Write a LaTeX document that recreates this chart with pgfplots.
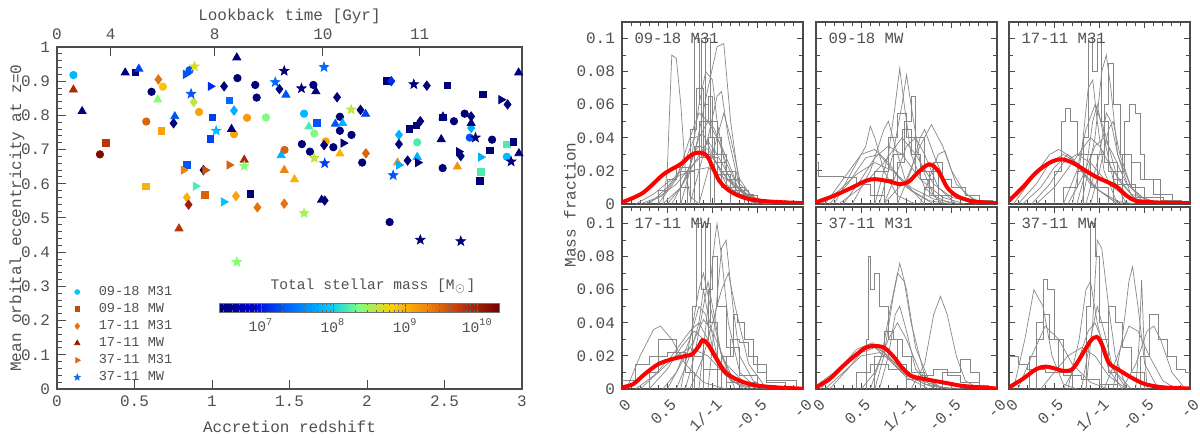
\documentclass[border=0pt]{standalone}
\usepackage{pgfplots}
\pgfplotsset{compat=1.18}
\usepackage{fontspec}
\setmainfont{Liberation Mono}
\definecolor{txt}{RGB}{80,80,80}
\definecolor{axc}{RGB}{75,75,75}
\definecolor{gline}{RGB}{135,135,135}
\definecolor{lca}{rgb}{0,0.78,1}
\definecolor{lcb}{rgb}{0.75,0.3,0.05}
\definecolor{lcc}{rgb}{0.88,0.45,0.05}
\definecolor{lcd}{rgb}{0.6,0.1,0.0}
\definecolor{lce}{rgb}{0.88,0.4,0.05}
\definecolor{lcf}{rgb}{0.0,0.45,0.9}
\pgfdeclareplotmark{fstar}{%
 \pgfpathmoveto{\pgfpointpolar{90}{\pgfplotmarksize}}%
 \pgfpathlineto{\pgfpointpolar{126}{0.42\pgfplotmarksize}}%
 \pgfpathlineto{\pgfpointpolar{162}{\pgfplotmarksize}}%
 \pgfpathlineto{\pgfpointpolar{198}{0.42\pgfplotmarksize}}%
 \pgfpathlineto{\pgfpointpolar{234}{\pgfplotmarksize}}%
 \pgfpathlineto{\pgfpointpolar{270}{0.42\pgfplotmarksize}}%
 \pgfpathlineto{\pgfpointpolar{306}{\pgfplotmarksize}}%
 \pgfpathlineto{\pgfpointpolar{342}{0.42\pgfplotmarksize}}%
 \pgfpathlineto{\pgfpointpolar{18}{\pgfplotmarksize}}%
 \pgfpathlineto{\pgfpointpolar{54}{0.42\pgfplotmarksize}}%
 \pgfpathclose\pgfusepathqfillstroke}
\newcommand{\GL}[1]{\addplot[gr] coordinates {#1};}
\newcommand{\GS}[1]{\addplot[gr,const plot] coordinates {#1};}
\newcommand{\RC}[1]{\addplot[red, line width=2pt, smooth, forget plot] coordinates {#1};}
\pgfplotsset{
 base/.style={font=\fontsize{8}{9.5}\selectfont, /pgf/number format/assume math mode=true,
   axis line style={axc, line width=0.6pt}, tick style={axc, line width=0.5pt},
   tick label style={txt}, label style={txt}, scale only axis, anchor=south west},
 gr/.style={gline, line width=0.35pt, forget plot},
 mf/.style={base, width=90.5pt, height=91pt, xmin=0, xmax=4, ymin=0, ymax=0.11,
   xtick={0,1,2,3,4}, ytick={0,0.02,0.04,0.06,0.08,0.1}, minor x tick num=4, minor y tick num=1,
   major tick length=3pt, minor tick length=1.8pt, scaled y ticks=false,
   yticklabel style={/pgf/number format/fixed, /pgf/number format/precision=2}},
 bot/.style={xticklabels={0,0.5,1/-1,-0.5,-0}, xticklabel style={xshift=4pt, yshift=-5.5pt, rotate=45, anchor=east, inner sep=1pt}},
 topr/.style={xticklabels={}},
 sc/.style={scatter, only marks, scatter src=explicit, forget plot,
   scatter/use mapped color={draw=mapped color, fill=mapped color}},
}
\newcommand{\PL}[1]{\node[anchor=west, txt, font=\fontsize{7.8}{9}\selectfont] at (axis cs:0.12,0.1) {#1};}
\begin{document}
\begin{tikzpicture}
\useasboundingbox (0,0) rectangle (600pt,219pt);
% ---------------- left scatter ----------------
\begin{axis}[base, at={(28.5pt,24.5pt)}, width=232.5pt, height=171pt,
 xmin=0, xmax=3, ymin=0, ymax=1, clip=false,
 xtick={0,0.5,1,1.5,2,2.5,3}, ytick={0,0.1,0.2,0.3,0.4,0.5,0.6,0.7,0.8,0.9,1},
 minor y tick num=4, xtick pos=bottom, ytick pos=left,
 major tick length=4.3pt, minor tick length=2.5pt,
 xlabel={Accretion redshift}, ylabel={Mean orbital eccentricity at z=0},
 ylabel style={at={(axis description cs:-0.086,0.5)}, anchor=center},
 colormap={idl}{rgb(0pt)=(0,0,0.45); rgb(12pt)=(0,0,0.85); rgb(25pt)=(0,0.4,1); rgb(39pt)=(0,0.78,1); rgb(50pt)=(0.5,1,0.5); rgb(62pt)=(1,0.8,0); rgb(73pt)=(0.95,0.55,0.05); rgb(86pt)=(0.75,0.22,0.05); rgb(100pt)=(0.45,0,0)},
 point meta min=6.42, point meta max=10.3,
 colorbar horizontal,
 colorbar style={at={(parent axis.south west)}, anchor=south west, xshift=81pt, yshift=47pt,
   width=140pt, height=4.5pt, font=\fontsize{7.3}{8.5}\selectfont,
   xtick={7,8,9,10}, xticklabels={10\textsuperscript{7},10\textsuperscript{8},10\textsuperscript{9},10\textsuperscript{10}},
   minor xtick={6.477,6.602,6.699,6.778,6.845,6.903,6.954,7.301,7.477,7.602,7.699,7.778,7.845,7.903,7.954,8.301,8.477,8.602,8.699,8.778,8.845,8.903,8.954,9.301,9.477,9.602,9.699,9.778,9.845,9.903,9.954,10.301},
   major tick length=2pt, minor tick length=1pt, tick style={black!60},
   axis line style={black!55, line width=0.5pt},
   xticklabel style={txt, yshift=0pt},
   title={Total stellar mass [M\textsubscript{$\odot$}]}, title style={txt, yshift=-4.75pt, xshift=7pt},
   /pgf/number format/assume math mode=true},
 legend style={at={(0.0045,0.0)}, anchor=south west, draw=none, fill=none,
   font=\fontsize{6.8}{7.5}\selectfont, text=txt, row sep=1.3pt, nodes={inner sep=0.6pt}},
 legend cell align=left,
 legend image code/.code={\path (0cm,0cm) (0.55cm,0cm); \draw[mark repeat=2,mark phase=2,#1] plot coordinates {(0cm,0cm)(0.2cm,0cm)(0.4cm,0cm)};},
]
\addlegendimage{only marks, mark=*, mark size=1.2pt, color=lca}
\addlegendentry{09-18 M31}
\addlegendimage{only marks, mark=square*, mark size=1.1pt, color=lcb}
\addlegendentry{09-18 MW}
\addlegendimage{only marks, mark=diamond*, mark size=1.5pt, color=lcc}
\addlegendentry{17-11 M31}
\addlegendimage{only marks, mark=triangle*, mark size=1.5pt, color=lcd}
\addlegendentry{17-11 MW}
\addlegendimage{only marks, mark=triangle*, mark size=1.5pt, color=lce, mark options={rotate=-90}}
\addlegendentry{37-11 M31}
\addlegendimage{only marks, mark=fstar, mark size=1.5pt, color=lcf}
\addlegendentry{37-11 MW}
% circles: 09-18 M31
\addplot[sc, mark=*, mark size=1.85pt] table[meta=m] {
x y m
0.106 0.918 7.85
0.277 0.686 10.2
0.610 0.869 6.45
0.576 0.782 9.5
0.683 0.884 8.9
0.855 0.932 7.3
0.916 0.810 9.1
1.164 0.909 6.45
1.142 0.745 9.1
1.226 0.793 9.15
1.348 0.794 8.35
1.279 0.889 6.45
1.288 0.852 6.45
1.468 0.699 9.5
1.654 0.889 6.45
1.594 0.805 7.85
1.660 0.747 8.35
1.580 0.716 6.45
1.632 0.694 6.45
1.734 0.724 9.1
1.783 0.707 6.45
1.825 0.796 6.45
1.825 0.755 6.45
1.900 0.743 6.45
1.969 0.662 6.45
2.324 0.721 8.2
2.561 0.783 6.45
2.630 0.805 6.45
2.488 0.646 6.45
2.663 0.735 7.3
2.807 0.729 6.45
2.902 0.679 7.85
2.146 0.488 6.45
};
% squares: 09-18 MW
\addplot[sc, mark=square*, mark size=1.6pt] table[meta=m] {
x y m
0.315 0.720 9.8
0.506 0.925 6.45
0.574 0.593 9.0
0.674 0.755 9.1
1.002 0.794 7.2
0.989 0.731 7.2
1.113 0.843 7.4
1.246 0.571 6.45
0.838 0.655 7.3
0.953 0.568 9.5
1.678 0.778 7.3
2.129 0.901 6.45
2.275 0.760 6.45
2.317 0.771 6.45
2.517 0.887 6.45
2.490 0.794 6.45
2.747 0.861 6.45
2.792 0.698 6.45
2.736 0.635 8.2
2.729 0.608 6.45
2.902 0.715 8.2
2.945 0.723 6.45
};
% diamonds: 17-11 M31
\addplot[sc, mark=diamond*, mark size=2.3pt] table[meta=m] {
x y m
0.654 0.905 9.4
0.752 0.777 6.45
0.882 0.839 8.6
1.078 0.885 6.45
1.142 0.814 7.8
1.293 0.531 9.4
1.155 0.564 9.1
0.838 0.560 9.0
0.849 0.539 10.0
0.945 0.640 6.45
1.435 0.877 6.45
1.466 0.542 9.4
1.723 0.713 6.45
1.727 0.551 6.45
1.807 0.853 6.45
1.958 0.816 6.45
1.993 0.689 9.5
2.157 0.900 7.1
2.206 0.743 7.8
2.206 0.716 6.45
2.262 0.668 6.45
2.344 0.783 6.45
2.386 0.887 6.45
2.605 0.681 6.45
2.672 0.797 6.45
2.672 0.763 7.8
2.907 0.832 6.45
};
% triangles: 17-11 MW
\addplot[sc, mark=triangle*, mark size=2.3pt] table[meta=m] {
x y m
0.106 0.875 9.9
0.162 0.812 6.45
0.440 0.925 6.45
0.528 0.936 7.2
0.650 0.846 8.4
0.760 0.797 7.3
1.160 0.969 6.45
1.126 0.760 6.45
1.208 0.670 9.9
1.477 0.860 7.3
1.446 0.683 7.8
1.466 0.640 9.3
1.532 0.613 9.0
1.670 0.870 6.45
1.625 0.767 8.2
1.825 0.688 9.0
1.796 0.775 7.3
1.843 0.777 7.8
1.707 0.553 6.45
1.991 0.804 7.2
2.197 0.662 9.2
2.324 0.678 7.8
2.490 0.796 6.45
2.479 0.730 6.45
2.583 0.650 9.2
2.672 0.777 6.45
2.980 0.689 6.45
2.978 0.925 6.45
0.787 0.469 9.8
};
% right triangles: 37-11 M31
\addplot[sc, mark=triangle*, mark size=2.3pt, mark options={rotate=-90}] table[meta=m] {
x y m
0.830 0.920 7.3
0.990 0.885 7.1
1.075 0.547 7.9
0.894 0.593 8.2
0.816 0.640 9.3
0.956 0.640 9.6
1.111 0.655 9.5
1.847 0.719 6.45
2.206 0.655 7.8
2.328 0.662 6.45
2.592 0.694 6.45
2.734 0.678 7.8
2.865 0.846 6.45
};
% stars: 37-11 MW
\addplot[sc, mark=fstar, mark size=2.4pt] table[meta=m] {
x y m
0.887 0.943 8.7
0.865 0.863 7.3
1.027 0.755 7.85
1.208 0.652 8.4
1.408 0.897 7.4
1.466 0.930 6.45
1.594 0.514 8.5
1.577 0.879 6.45
1.660 0.675 8.6
1.723 0.941 7.4
1.727 0.660 7.2
1.898 0.817 8.6
2.169 0.625 7.3
2.302 0.891 6.45
2.700 0.735 6.45
2.930 0.665 6.45
2.344 0.436 6.45
2.605 0.432 6.45
1.160 0.371 8.4
};
\end{axis}
% lookback time axis
\begin{axis}[base, at={(28.5pt,24.5pt)}, width=232.5pt, height=171pt,
 xmin=0, xmax=3, ymin=0, ymax=1, axis x line*=top, axis y line=none,
 xtick={0,0.346,1.017,1.716,2.34}, xticklabels={0,4,8,10,11},
 major tick length=4.3pt, xlabel={Lookback time [Gyr]}, xlabel style={yshift=-4pt}]
\end{axis}
% ---------------- panel 1: 09-18 M31 ----------------
\begin{axis}[mf, topr, at={(311pt,117pt)}]
\GL{(0.9,0)(1.0,0.02)(1.1,0.09)(1.2,0.088)(1.3,0.06)(1.4,0.02)(1.5,0.005)(1.7,0)}
\GS{(1.4,0)(1.5,0.04)(1.6,0.1)(1.7,0.06)(1.75,0.1)(1.85,0.03)(1.95,0.0)}
\GL{(1.0,0)(1.3,0.01)(1.6,0.03)(1.9,0.07)(2.1,0.095)(2.25,0.097)(2.4,0.05)(2.6,0.01)(2.9,0)}
\GL{(0.5,0)(0.9,0.005)(1.3,0.02)(1.6,0.04)(1.8,0.042)(2.0,0.03)(2.3,0.012)(2.7,0.003)(3.2,0)}
\GL{(0.6,0)(1.0,0.01)(1.4,0.025)(1.7,0.035)(1.9,0.033)(2.2,0.02)(2.6,0.006)(3.0,0.001)(3.4,0)}
\GS{(1.2,0)(1.3,0.02)(1.5,0.045)(1.65,0.07)(1.8,0.05)(2.0,0.03)(2.2,0.01)(2.4,0)}
\GL{(1.3,0)(1.5,0.02)(1.7,0.06)(1.85,0.08)(2.0,0.075)(2.1,0.05)(2.3,0.02)(2.6,0.005)(3.0,0)}
\GS{(0.7,0)(0.8,0.008)(1.0,0.015)(1.2,0.022)(1.5,0.03)(1.8,0.028)(2.1,0.018)(2.4,0.008)(2.8,0.002)(3.3,0)}
\GS{(1.4,0)(1.6,0.03)(1.75,0.1)(1.85,0.1)(1.95,0.04)(2.05,0.0)}
\GL{(0.8,0)(1.2,0.015)(1.5,0.04)(1.7,0.055)(1.9,0.05)(2.2,0.035)(2.5,0.015)(2.9,0.004)(3.4,0)}
\GL{(1.5,0)(1.7,0.02)(1.9,0.04)(2.1,0.065)(2.2,0.068)(2.35,0.04)(2.6,0.01)(3.0,0)}
\GL{(0.9,0)(1.3,0.01)(1.6,0.025)(1.9,0.038)(2.1,0.03)(2.4,0.015)(2.8,0.004)(3.5,0)}
\GS{(1.1,0)(1.3,0.01)(1.5,0.03)(1.7,0.05)(1.9,0.065)(2.0,0.04)(2.2,0.02)(2.5,0.006)(2.9,0)}
\GL{(0.4,0)(0.8,0.004)(1.2,0.012)(1.5,0.022)(1.8,0.03)(2.0,0.028)(2.3,0.016)(2.7,0.006)(3.1,0.002)(3.6,0)}
\GL{(1.1,0)(1.4,0.015)(1.7,0.04)(1.9,0.05)(2.05,0.045)(2.3,0.025)(2.6,0.008)(3.0,0)}
\GS{(1.6,0)(1.7,0.03)(1.8,0.06)(1.9,0.065)(2.0,0.05)(2.1,0.03)(2.3,0.015)(2.6,0.005)(3.0,0)}
\GL{(0.3,0)(0.7,0.006)(1.1,0.015)(1.5,0.02)(1.9,0.022)(2.3,0.015)(2.8,0.005)(3.4,0)}
\GL{(1.7,0)(1.9,0.02)(2.1,0.04)(2.25,0.055)(2.4,0.04)(2.6,0.015)(2.9,0.003)(3.3,0)}
\GS{(1.3,0)(1.45,0.02)(1.6,0.035)(1.75,0.028)(1.9,0.04)(2.05,0.025)(2.3,0.01)(2.7,0)}
\RC{(0,0.001)(0.46,0.0067)(0.92,0.018)(1.29,0.024)(1.5,0.029)(1.66,0.031)(1.88,0.029)(2.15,0.014)(2.43,0.007)(2.8,0.003)(3.26,0.0015)(4,0.0005)}
\PL{09-18 M31}
\end{axis}
% ---------------- panel 2: 09-18 MW ----------------
\begin{axis}[mf, topr, yticklabels={}, at={(408pt,117pt)}]
\GS{(0,0.025)(0.05,0.017)(0.6,0.016)(0.9,0.012)(1.2,0.005)(1.5,0)}
\GL{(0.4,0)(0.8,0.02)(1.1,0.035)(1.2,0.047)(1.3,0.04)(1.5,0.02)(1.8,0.005)(2.2,0)}
\GL{(1.3,0)(1.6,0.03)(1.75,0.06)(1.85,0.082)(1.95,0.06)(2.1,0.03)(2.4,0.01)(2.8,0)}
\GL{(1.4,0)(1.7,0.03)(1.9,0.06)(2.0,0.078)(2.1,0.06)(2.3,0.025)(2.6,0.005)(3.0,0)}
\GL{(1.5,0)(2.0,0.015)(2.3,0.035)(2.55,0.048)(2.8,0.035)(3.1,0.012)(3.5,0.002)(3.8,0)}
\GL{(0.2,0)(0.6,0.015)(1.0,0.03)(1.3,0.033)(1.6,0.025)(2.0,0.01)(2.5,0.002)(3.0,0)}
\GS{(1.0,0)(1.3,0.02)(1.6,0.04)(1.8,0.055)(2.0,0.04)(2.2,0.02)(2.5,0.005)(2.8,0)}
\GL{(1.8,0)(2.1,0.02)(2.3,0.04)(2.4,0.045)(2.6,0.03)(2.9,0.01)(3.3,0.002)(3.6,0)}
\GL{(0.5,0)(1.0,0.01)(1.5,0.025)(1.9,0.04)(2.2,0.03)(2.6,0.012)(3.0,0.004)(3.6,0)}
\GS{(2.2,0)(2.4,0.01)(2.6,0.025)(2.8,0.015)(3.0,0.01)(3.3,0.005)(3.6,0.002)(3.9,0)}
\GL{(0.8,0)(1.2,0.02)(1.5,0.045)(1.6,0.05)(1.75,0.035)(2.0,0.012)(2.4,0)}
\GL{(0.3,0)(0.7,0.012)(1.1,0.028)(1.4,0.03)(1.7,0.02)(2.1,0.008)(2.6,0)}
\GL{(0.6,0)(1.0,0.015)(1.3,0.028)(1.6,0.035)(1.9,0.03)(2.3,0.015)(2.8,0.004)(3.3,0)}
\GL{(1.5,0)(1.8,0.02)(2.0,0.035)(2.2,0.04)(2.4,0.03)(2.7,0.01)(3.1,0)}
\GS{(1.2,0)(1.5,0.015)(1.7,0.03)(1.9,0.045)(2.1,0.03)(2.3,0.015)(2.6,0.005)(3.0,0)}
\GL{(2.3,0)(2.5,0.015)(2.7,0.03)(2.85,0.032)(3.0,0.02)(3.3,0.006)(3.7,0)}
\GL{(0.1,0)(0.5,0.008)(0.9,0.018)(1.3,0.025)(1.7,0.02)(2.1,0.01)(2.6,0.003)(3.2,0)}
\GS{(1.6,0)(1.8,0.025)(1.95,0.05)(2.1,0.065)(2.2,0.04)(2.4,0.02)(2.7,0)}
\RC{(0,0.001)(0.4,0.005)(0.8,0.010)(1.1,0.014)(1.3,0.015)(1.6,0.0138)(1.85,0.012)(2.05,0.0135)(2.25,0.019)(2.5,0.024)(2.7,0.02)(2.9,0.01)(3.1,0.005)(3.4,0.002)(3.7,0.001)(4,0.0005)}
\PL{09-18 MW}
\end{axis}
% ---------------- panel 3: 17-11 M31 ----------------
\begin{axis}[mf, topr, yticklabels={}, at={(504.5pt,117pt)}]
\GS{(1.5,0)(1.65,0.04)(1.75,0.1)(1.85,0.08)(1.95,0.1)(2.05,0.05)(2.2,0.02)(2.5,0)}
\GL{(1.6,0)(1.9,0.04)(2.05,0.08)(2.15,0.09)(2.25,0.07)(2.4,0.03)(2.7,0.005)(3.0,0)}
\GS{(0.8,0)(1.0,0.02)(1.15,0.05)(1.25,0.058)(1.35,0.05)(1.5,0.03)(1.8,0.01)(2.2,0)}
\GS{(2.0,0)(2.3,0.02)(2.55,0.05)(2.65,0.06)(2.8,0.055)(2.9,0.03)(3.0,0.015)(3.3,0.015)(3.35,0.002)(3.8,0)}
\GL{(0.1,0)(0.5,0.015)(0.9,0.03)(1.1,0.033)(1.4,0.028)(1.8,0.012)(2.3,0.002)(2.8,0)}
\GL{(1.2,0)(1.5,0.02)(1.7,0.045)(1.9,0.06)(2.1,0.045)(2.4,0.015)(2.8,0.003)(3.2,0)}
\GL{(1.4,0)(1.6,0.03)(1.75,0.07)(1.85,0.075)(1.95,0.05)(2.1,0.02)(2.4,0)}
\GL{(0.6,0)(1.0,0.01)(1.4,0.025)(1.8,0.04)(2.0,0.035)(2.3,0.02)(2.7,0.006)(3.4,0)}
\GS{(1.0,0)(1.2,0.01)(1.5,0.02)(1.8,0.03)(2.1,0.025)(2.4,0.012)(2.8,0.004)(3.4,0)}
\GL{(1.7,0)(2.0,0.03)(2.15,0.055)(2.25,0.05)(2.4,0.03)(2.7,0.01)(3.1,0)}
\GL{(0.3,0)(0.7,0.01)(1.0,0.022)(1.3,0.03)(1.6,0.02)(2.0,0.008)(2.5,0)}
\GL{(1.8,0)(2.0,0.02)(2.2,0.045)(2.3,0.05)(2.45,0.03)(2.7,0.01)(3.0,0)}
\GL{(0.5,0)(0.9,0.012)(1.2,0.025)(1.5,0.03)(1.8,0.025)(2.2,0.012)(2.6,0.004)(3.1,0)}
\GS{(1.8,0)(1.95,0.03)(2.1,0.06)(2.2,0.085)(2.3,0.06)(2.45,0.03)(2.7,0.01)(3.0,0)}
\GL{(1.3,0)(1.6,0.015)(1.9,0.035)(2.1,0.04)(2.3,0.03)(2.6,0.012)(3.0,0.003)(3.4,0)}
\GL{(0.2,0)(0.6,0.012)(0.9,0.025)(1.2,0.03)(1.5,0.025)(1.9,0.01)(2.4,0)}
\GS{(2.1,0)(2.3,0.015)(2.5,0.03)(2.7,0.025)(2.9,0.015)(3.2,0.006)(3.6,0)}
\GL{(1.5,0)(1.7,0.02)(1.85,0.05)(1.95,0.06)(2.1,0.04)(2.3,0.015)(2.6,0)}
\RC{(0,0.002)(0.3,0.01)(0.6,0.019)(0.9,0.025)(1.15,0.027)(1.4,0.025)(1.7,0.02)(1.95,0.016)(2.2,0.013)(2.4,0.010)(2.6,0.005)(2.8,0.002)(3.2,0.001)(4,0.0005)}
\PL{17-11 M31}
\end{axis}
% ---------------- panel 4: 17-11 MW ----------------
\begin{axis}[mf, bot, at={(311pt,24.5pt)}]
\GS{(1.4,0)(1.55,0.05)(1.65,0.1)(1.75,0.06)(1.85,0.1)(1.95,0.04)(2.1,0)}
\GL{(1.7,0)(1.9,0.05)(2.05,0.09)(2.1,0.1)(2.2,0.08)(2.35,0.04)(2.6,0.01)(3.0,0)}
\GL{(0.1,0)(0.4,0.02)(0.7,0.036)(0.85,0.038)(1.1,0.03)(1.4,0.015)(1.8,0.004)(2.3,0)}
\GL{(1.9,0)(2.05,0.04)(2.2,0.085)(2.3,0.09)(2.45,0.05)(2.6,0.02)(2.9,0.005)(3.2,0)}
\GS{(0.5,0)(0.6,0.01)(0.8,0.03)(1.0,0.03)(1.2,0.02)(1.4,0.01)(1.6,0)}
\GL{(1.3,0)(1.5,0.03)(1.7,0.06)(1.8,0.07)(1.95,0.05)(2.2,0.02)(2.5,0.004)(2.9,0)}
\GS{(2.0,0)(2.2,0.02)(2.4,0.03)(2.6,0.028)(2.8,0.02)(3.0,0.01)(3.2,0.005)(3.8,0.005)(3.85,0)}
\GL{(0.3,0)(0.7,0.008)(1.1,0.02)(1.5,0.035)(1.7,0.04)(1.9,0.03)(2.2,0.012)(2.7,0.002)(3.2,0)}
\GL{(0.9,0)(1.2,0.01)(1.5,0.03)(1.7,0.05)(1.85,0.045)(2.0,0.025)(2.3,0.008)(2.7,0)}
\GL{(1.5,0)(1.8,0.02)(2.0,0.04)(2.2,0.06)(2.35,0.07)(2.5,0.05)(2.8,0.015)(3.2,0)}
\GS{(0,0.005)(0.3,0.015)(0.6,0.02)(1.0,0.022)(1.4,0.02)(1.8,0.012)(2.3,0.004)(3.0,0)}
\GL{(1.2,0)(1.5,0.02)(1.7,0.04)(1.8,0.06)(1.9,0.045)(2.1,0.02)(2.4,0.005)(2.8,0)}
\GL{(0.6,0)(1.0,0.012)(1.3,0.025)(1.6,0.035)(1.8,0.03)(2.1,0.018)(2.5,0.006)(3.0,0)}
\GS{(1.6,0)(1.8,0.03)(1.9,0.06)(2.0,0.08)(2.1,0.05)(2.3,0.025)(2.6,0.008)(3.0,0)}
\GL{(1.0,0)(1.3,0.015)(1.6,0.03)(1.8,0.042)(2.0,0.035)(2.3,0.015)(2.7,0.004)(3.2,0)}
\GS{(2.1,0)(2.3,0.02)(2.45,0.045)(2.55,0.04)(2.7,0.03)(2.9,0.015)(3.2,0.004)(3.6,0)}
\GL{(0.4,0)(0.8,0.01)(1.2,0.02)(1.5,0.025)(1.9,0.02)(2.3,0.008)(2.8,0.002)(3.4,0)}
\GL{(1.4,0)(1.6,0.02)(1.8,0.05)(1.9,0.065)(2.0,0.05)(2.2,0.02)(2.5,0)}
\RC{(0,0.001)(0.25,0.003)(0.5,0.009)(0.8,0.015)(1.1,0.018)(1.4,0.02)(1.55,0.021)(1.7,0.026)(1.78,0.0295)(1.9,0.027)(2.05,0.02)(2.25,0.011)(2.45,0.007)(2.7,0.004)(3.0,0.002)(3.5,0.0008)(4,0.0002)}
\PL{17-11 MW}
\end{axis}
% ---------------- panel 5: 37-11 M31 ----------------
\begin{axis}[mf, bot, yticklabels={}, at={(408pt,24.5pt)}]
\GS{(1.05,0)(1.12,0.03)(1.15,0.08)(1.2,0.06)(1.3,0.07)(1.4,0.05)(1.6,0.03)(1.8,0.015)(2.0,0)}
\GL{(1.3,0)(1.5,0.02)(1.7,0.055)(1.85,0.076)(2.0,0.06)(2.2,0.025)(2.5,0.005)(2.8,0)}
\GL{(1.2,0)(1.45,0.02)(1.65,0.05)(1.8,0.07)(1.95,0.065)(2.1,0.04)(2.4,0.008)(2.8,0)}
\GL{(2.1,0)(2.4,0.015)(2.6,0.045)(2.75,0.056)(2.9,0.045)(3.1,0.02)(3.3,0.005)(3.6,0)}
\GL{(0.1,0)(0.5,0.012)(0.9,0.024)(1.25,0.028)(1.6,0.02)(2.0,0.008)(2.5,0.002)(3.0,0)}
\GL{(0.3,0)(0.7,0.012)(1.0,0.022)(1.3,0.025)(1.6,0.018)(2.0,0.007)(2.5,0)}
\GS{(2.6,0)(2.8,0.01)(3.2,0.018)(3.4,0.01)(3.6,0.002)(3.8,0)}
\GL{(1.4,0)(1.6,0.02)(1.75,0.045)(1.85,0.05)(2.0,0.035)(2.2,0.012)(2.6,0)}
\GS{(0.5,0)(0.9,0.01)(1.2,0.015)(1.6,0.012)(2.0,0.006)(2.6,0.004)(3.0,0)}
\GL{(1.0,0)(1.3,0.01)(1.6,0.03)(1.8,0.04)(2.0,0.03)(2.3,0.01)(2.7,0)}
\GL{(0.2,0)(0.6,0.01)(1.0,0.02)(1.4,0.022)(1.8,0.015)(2.2,0.006)(2.8,0.001)(3.3,0)}
\GS{(1.1,0)(1.3,0.02)(1.5,0.035)(1.7,0.03)(1.9,0.02)(2.1,0.01)(2.4,0)}
\GL{(0.0,0.002)(0.4,0.01)(0.8,0.02)(1.2,0.027)(1.5,0.022)(1.9,0.01)(2.4,0.003)(3.0,0)}
\GS{(2.0,0)(2.3,0.008)(2.6,0.012)(2.9,0.008)(3.2,0.004)(3.6,0)}
\RC{(0,0.001)(0.3,0.006)(0.6,0.014)(0.9,0.021)(1.1,0.025)(1.3,0.026)(1.5,0.025)(1.7,0.02)(1.9,0.013)(2.1,0.008)(2.3,0.0065)(2.6,0.005)(2.9,0.0035)(3.2,0.002)(3.6,0.001)(4,0.0003)}
\PL{37-11 M31}
\end{axis}
% ---------------- panel 6: 37-11 MW ----------------
\begin{axis}[mf, bot, yticklabels={}, at={(504.5pt,24.5pt)}]
\GL{(0.1,0)(0.35,0.03)(0.55,0.06)(0.75,0.05)(0.95,0.02)(1.2,0.003)(1.5,0)}
\GS{(0.5,0)(0.6,0.03)(0.75,0.066)(0.85,0.06)(1.0,0.03)(1.2,0.01)(1.4,0)}
\GS{(1.5,0)(1.7,0.05)(1.8,0.1)(1.9,0.08)(2.0,0.04)(2.2,0.01)(2.4,0)}
\GL{(1.7,0)(1.85,0.04)(1.95,0.09)(2.05,0.085)(2.2,0.05)(2.35,0.02)(2.6,0)}
\GL{(0.2,0)(0.5,0.02)(0.8,0.038)(1.1,0.03)(1.4,0.015)(1.8,0.004)(2.2,0)}
\GL{(2.3,0)(2.5,0.03)(2.65,0.065)(2.73,0.074)(2.85,0.05)(3.0,0.015)(3.3,0)}
\GL{(2.8,0)(2.88,0.03)(2.93,0.066)(2.98,0.03)(3.05,0)}
\GS{(2.7,0)(2.9,0.02)(3.1,0.045)(3.3,0.03)(3.5,0.02)(3.7,0.012)(3.9,0.01)(4.0,0.015)}
\GL{(2.1,0)(2.4,0.02)(2.65,0.038)(2.85,0.035)(3.1,0.02)(3.4,0.005)(3.7,0)}
\GL{(1.3,0)(1.55,0.03)(1.7,0.06)(1.8,0.065)(1.95,0.04)(2.2,0.012)(2.5,0)}
\GS{(0,0.02)(0.2,0.015)(0.4,0.012)(0.8,0.01)(1.2,0.008)(1.6,0.006)(2.0,0.003)(2.4,0)}
\GL{(1.6,0)(1.8,0.03)(1.95,0.05)(2.1,0.035)(2.3,0.012)(2.6,0)}
\GS{(0.3,0)(0.45,0.02)(0.6,0.04)(0.75,0.045)(0.9,0.03)(1.1,0.012)(1.4,0)}
\GL{(1.2,0)(1.5,0.015)(1.75,0.035)(1.9,0.04)(2.05,0.03)(2.3,0.012)(2.7,0)}
\GS{(1.9,0)(2.05,0.03)(2.2,0.05)(2.35,0.04)(2.5,0.025)(2.7,0.01)(3.0,0)}
\GL{(2.5,0)(2.8,0.015)(3.05,0.035)(3.2,0.038)(3.35,0.03)(3.6,0.01)(3.9,0)}
\GL{(0.7,0)(1.0,0.01)(1.3,0.02)(1.6,0.025)(1.9,0.02)(2.2,0.008)(2.6,0)}
\RC{(0,0.001)(0.3,0.006)(0.6,0.012)(0.8,0.0135)(1.0,0.0125)(1.2,0.011)(1.4,0.012)(1.6,0.02)(1.8,0.029)(1.94,0.0315)(2.05,0.027)(2.2,0.016)(2.4,0.012)(2.7,0.007)(3.0,0.003)(3.4,0.001)(4,0.0003)}
\PL{37-11 MW}
\end{axis}
\node[rotate=90, txt, font=\fontsize{8}{9.5}\selectfont] at (285pt,116.5pt) {Mass fraction};
\end{tikzpicture}
\end{document}
